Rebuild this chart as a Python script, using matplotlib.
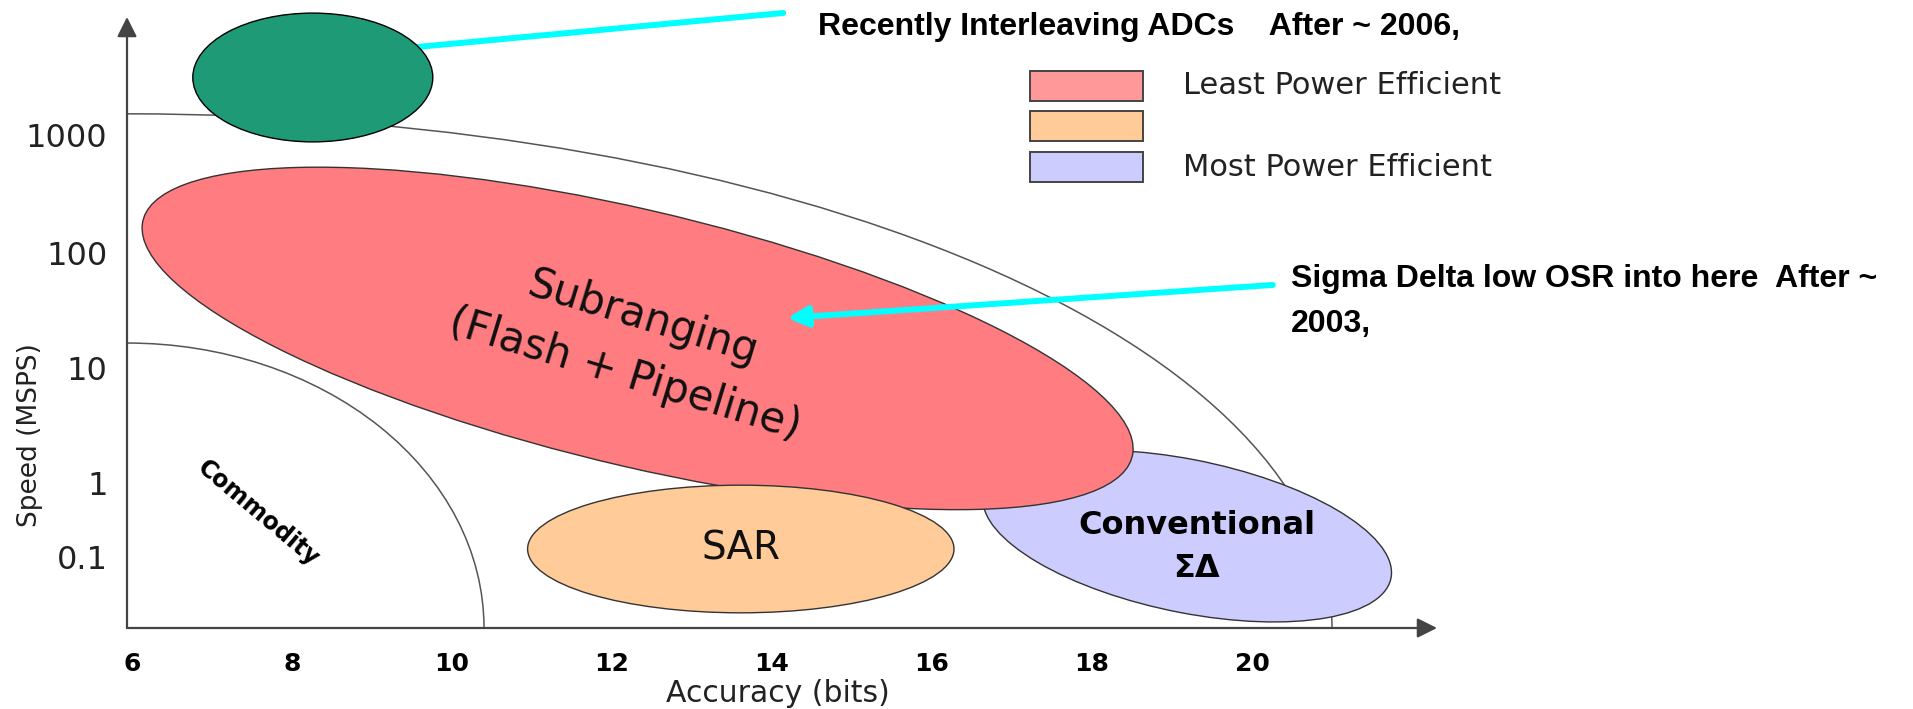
import numpy as np
import matplotlib.pyplot as plt
from matplotlib.patches import Ellipse, Arc, Rectangle

# axes: accuracy in bits, speed in decades of MSPS (0.1 is squeezed like in the sketch)
bit_ticks = [6, 8, 10, 12, 14, 16, 18, 20]
speed_pos = [-0.64, 0, 1, 2, 3.03]
speed_labels = ['0.1', '1', '10', '100', '1000']
bits_lim = [5.9375, 22.3125]
level_lim = [-1.261, 4.052]

# ADC regions, drawn back to front
region_names = ['Conventional\n\u03a3\u0394', 'Subranging\n(Flash + Pipeline)', 'SAR', 'Interleaving']
region_bits = [19.19, 12.32, 13.61, 8.26]
region_level = [-0.462, 1.257, -0.574, 3.526]
region_width = [5.15, 12.54, 5.33, 3.0]
region_height = [1.34, 2.25, 1.11, 1.12]
region_angle = [-7.6, -9.1, 0.0, 0.0]
region_colors = ['#CCCCFF', '#FF7C80', '#FFCC99', '#1F9A77']

# quarter-ellipse boundaries from the origin corner
arc_bits = [10.4, 21.0]
arc_level = [1.217, 3.21]

legend_labels = ['Least Power Efficient', '', 'Most Power Efficient']
legend_colors = ['#FF9999', '#FFCC99', '#CCCCFF']

fig = plt.figure(figsize=(19.13, 7.09), dpi=100)
ax = fig.add_axes([127/1913, 81/709, 1310/1913, 611/709])
ax.set_xlim(bits_lim)
ax.set_ylim(level_lim)
for s in ax.spines.values():
    s.set_visible(False)

# axes with arrow heads
arr = dict(arrowstyle='-|>,head_length=0.6,head_width=0.3', mutation_scale=20,
           lw=1.6, color='#444', shrinkA=0, shrinkB=0)
ax.annotate('', xy=(0, 1), xytext=(0, 0), xycoords='axes fraction',
            textcoords='axes fraction', arrowprops=arr, annotation_clip=False)
ax.annotate('', xy=(1, 0), xytext=(0, 0), xycoords='axes fraction',
            textcoords='axes fraction', arrowprops=arr, annotation_clip=False)

ax.set_yticks(speed_pos, speed_labels, fontsize=23, color='#222')
ax.tick_params(axis='y', which='major', length=0, pad=14)
ax.set_yticks([0, 1], minor=True)
ax.tick_params(axis='y', which='minor', length=18, width=1.3, direction='inout', color='#444')
ax.set_xticks(bit_ticks, [str(b) for b in bit_ticks], fontsize=18, fontweight='bold')
ax.tick_params(axis='x', length=0, pad=17)

ax.set_xlabel('Accuracy (bits)', fontsize=21.5, color='#222')
ax.xaxis.set_label_coords((778-127)/1310, (628-693)/611)
ax.xaxis.label.set_va('center')
ax.set_ylabel('Speed (MSPS)', fontsize=19, color='#222')
ax.yaxis.set_label_coords((30-127)/1310, (628-435)/611)
ax.yaxis.label.set_va('center')

for xb, yl in zip(arc_bits, arc_level):
    ax.add_patch(Arc((bits_lim[0], level_lim[0]), 2*(xb-bits_lim[0]), 2*(yl-level_lim[0]),
                     theta1=0, theta2=90, color='#555', lw=1.1, zorder=1))

# leader line to the interleaving ellipse (under it)
ax.annotate('', xy=(14.14, 4.087), xytext=(9.56, 3.791),
            arrowprops=dict(arrowstyle='-', color='cyan', lw=4.3, shrinkA=0, shrinkB=0),
            annotation_clip=False, zorder=2)

for i in range(len(region_names)):
    edge = 'black' if i == 3 else '#333'
    ax.add_patch(Ellipse((region_bits[i], region_level[i]), region_width[i], region_height[i],
                         angle=region_angle[i], facecolor=region_colors[i], edgecolor=edge,
                         lw=1.0, zorder=2 + i*0.1, clip_on=False))

ax.text(19.31, -0.557, region_names[0], fontsize=23, fontweight='bold',
        ha='center', va='center', linespacing=1.5, zorder=5)
ax.text(12.27, 1.19, region_names[1], fontsize=30, rotation=-17, ha='center', va='center',
        linespacing=1.5, color='#111', zorder=5)
ax.text(region_bits[2], region_level[2], region_names[2], fontsize=28, ha='center', va='center',
        color='#111', zorder=5)
ax.text(7.575, -0.26, 'Commodity', fontsize=17, fontweight='bold', rotation=-40,
        ha='center', va='center', zorder=5)

ax.annotate('', xy=(14.19, 1.435), xytext=(20.26, 1.722),
            arrowprops=dict(arrowstyle='-|>,head_length=0.6,head_width=0.3', mutation_scale=20,
                            color='cyan', lw=4.3, shrinkA=0, shrinkB=0),
            annotation_clip=False, zorder=6)

bold_note = dict(family='Liberation Sans', fontweight='bold', fontsize=23, color='black')
ax.text(14.575, 3.896, 'Recently Interleaving ADCs    After ~ 2006,', ha='left', va='baseline',
        **bold_note)
# multi-line baseline alignment uses the last line
ax.text(20.49, 1.317, 'Sigma Delta low OSR into here  After ~\n2003,', ha='left', va='baseline',
        linespacing=1.65, **bold_note)

# legend boxes
for i, (lab, col) in enumerate(zip(legend_labels, legend_colors)):
    y0 = 3.322 - i*0.3525
    ax.add_patch(Rectangle((17.225, y0), 1.4125, 0.261, facecolor=col, edgecolor='#444',
                           lw=1.4, zorder=3, clip_on=False))
    if lab:
        ax.text(19.14, y0 + 0.1305, lab, fontsize=22, color='#222', ha='left', va='center')

fig.savefig('out.png', dpi=100)
